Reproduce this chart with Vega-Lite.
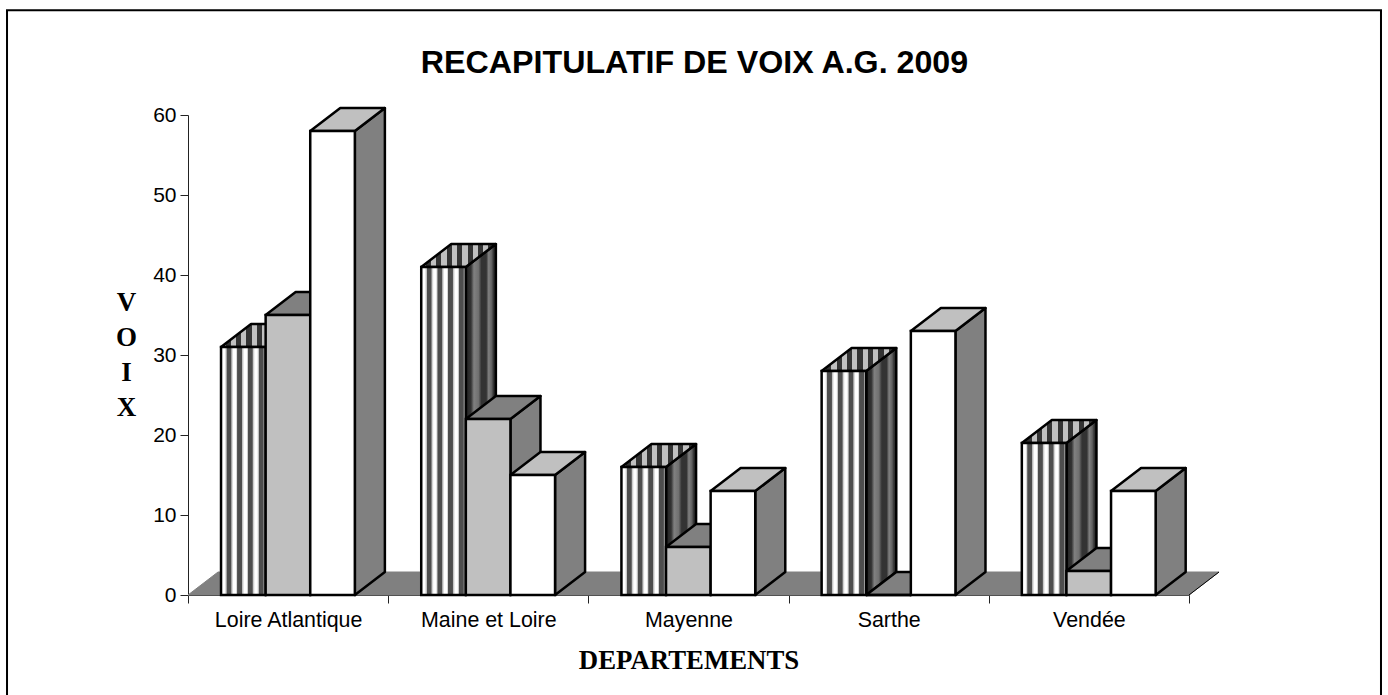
{"$schema":"https://vega.github.io/schema/vega-lite/v6.json","width":1001,"height":480,"autosize":"none","padding":{"left":188,"top":115,"right":199,"bottom":100},"background":"white","view":{"stroke":null},"config":{"view":{"stroke":null}},
"title":{"text":"RECAPITULATIF DE VOIX A.G. 2009","font":"Liberation Sans","fontSize":32.2,"fontWeight":"bold","color":"black","anchor":"middle","dx":6,"offset":-71},
"layer":[
{"data":{"values":[{"left":-0.904,"right":5.959,"top":73.1,"bottom":-13}]},"mark":{"type":"rect","fill":null,"stroke":"black","strokeWidth":2},"encoding":{"x":{"field":"left","type":"quantitative","scale":{"domain":[0,5],"nice":false},"axis":{"values":[0,0.5,1,1.5,2,2.5,3,3.5,4,4.5,5],"labelExpr":"datum.value % 1 == 0 ? '' : ['Loire Atlantique','Maine et Loire','Mayenne','Sarthe','Vendée'][floor(datum.value)]","tickOpacity":{"condition":{"test":"datum.value % 1 != 0","value":0},"value":1},"tickSize":8,"tickColor":"#222222","domainColor":"#222222","grid":false,"labelFont":"Liberation Sans","labelFontSize":21.4,"labelColor":"black","labelPadding":6,"labelFlush":false,"labelOverlap":false,"title":"DEPARTEMENTS","titleFont":"Liberation Serif","titleFontSize":26.8,"titleFontWeight":"bold","titleColor":"black","titlePadding":17}},"x2":{"field":"right"},"y":{"field":"bottom","type":"quantitative","scale":{"domain":[0,60],"nice":false},"axis":{"values":[0,10,20,30,40,50,60],"tickSize":8,"tickColor":"#222222","domainColor":"#222222","grid":false,"labelFont":"Liberation Sans","labelFontSize":21,"labelColor":"black","labelPadding":4,"title":["V","O","I","X"],"titleAngle":0,"titleFont":"Liberation Serif","titleFontSize":27,"titleFontWeight":"bold","titleColor":"black","titleLineHeight":35.3,"titleAlign":"center","titleBaseline":"middle","titleX":-62,"titleY":187}},"y2":{"field":"top"}}},
{"data":{"values":[{"edge":"front","level":0,"start":0,"end":5},{"edge":"back","level":2.875,"start":0.15,"end":5.15}]},"layer":[
{"mark":{"type":"area","orient":"horizontal","fill":"#808080","stroke":"#808080","strokeWidth":1},"encoding":{"y":{"field":"level","type":"quantitative"},"x":{"field":"start","type":"quantitative"},"x2":{"field":"end"}}},
{"mark":{"type":"line","stroke":"black","strokeWidth":1},"encoding":{"x":{"field":"end","type":"quantitative"},"y":{"field":"level","type":"quantitative"}}}
]},
{"data":{"values":[
{"departement":"Loire Atlantique","rang":0,"serie":0,"voix":31},{"departement":"Loire Atlantique","rang":0,"serie":1,"voix":35},{"departement":"Loire Atlantique","rang":0,"serie":2,"voix":58},
{"departement":"Maine et Loire","rang":1,"serie":0,"voix":41},{"departement":"Maine et Loire","rang":1,"serie":1,"voix":22},{"departement":"Maine et Loire","rang":1,"serie":2,"voix":15},
{"departement":"Mayenne","rang":2,"serie":0,"voix":16},{"departement":"Mayenne","rang":2,"serie":1,"voix":6},{"departement":"Mayenne","rang":2,"serie":2,"voix":13},
{"departement":"Sarthe","rang":3,"serie":0,"voix":28},{"departement":"Sarthe","rang":3,"serie":1,"voix":0},{"departement":"Sarthe","rang":3,"serie":2,"voix":33},
{"departement":"Vendée","rang":4,"serie":0,"voix":19},{"departement":"Vendée","rang":4,"serie":1,"voix":3},{"departement":"Vendée","rang":4,"serie":2,"voix":13}]},
"transform":[
{"calculate":"datum.rang+0.165+0.2228*datum.serie","as":"x0"},
{"calculate":"datum.x0+0.2228","as":"x1"},
{"calculate":"[0,1]","as":"p"},
{"flatten":["p"]},
{"calculate":"datum.x1+datum.p*0.15","as":"sideX"},
{"calculate":"datum.p*2.875","as":"low"},
{"calculate":"datum.voix+datum.p*2.875","as":"high"},
{"calculate":"datum.x0+datum.p*0.15","as":"topX0"},
{"calculate":"datum.x1+datum.p*0.15","as":"topX1"}],
"layer":[
{"mark":{"type":"area","orient":"vertical","stroke":"black","strokeWidth":2.5,"strokeJoin":"round"},"encoding":{"x":{"field":"sideX","type":"quantitative"},"y":{"field":"high","type":"quantitative"},"y2":{"field":"low"},"detail":[{"field":"rang"},{"field":"serie"}],
"fill":{"condition":{"test":"datum.serie==0","value":{"gradient":"linear","x1":0,"y1":0,"x2":1,"y2":0,"stops":[{"offset":0,"color":"#222222"},{"offset":0.17,"color":"#333333"},{"offset":0.27,"color":"#808080"},{"offset":0.42,"color":"#707070"},{"offset":0.52,"color":"#333333"},{"offset":0.68,"color":"#333333"},{"offset":0.76,"color":"#808080"},{"offset":0.86,"color":"#606060"},{"offset":0.92,"color":"#333333"},{"offset":1,"color":"#222222"}]}},"value":"#808080"}}},
{"mark":{"type":"area","orient":"horizontal","stroke":"black","strokeWidth":2.5,"strokeJoin":"round"},"encoding":{"y":{"field":"high","type":"quantitative"},"x":{"field":"topX0","type":"quantitative"},"x2":{"field":"topX1"},"detail":[{"field":"rang"},{"field":"serie"}],
"fill":{"condition":[{"test":"datum.serie==0","value":{"gradient":"linear","x1":0,"y1":0,"x2":1,"y2":0,"stops":[{"offset":0,"color":"#c0c0c0"},{"offset":0.06,"color":"#c0c0c0"},{"offset":0.06,"color":"#333333"},{"offset":0.13,"color":"#333333"},{"offset":0.13,"color":"#c0c0c0"},{"offset":0.2,"color":"#c0c0c0"},{"offset":0.2,"color":"#333333"},{"offset":0.27,"color":"#333333"},{"offset":0.27,"color":"#c0c0c0"},{"offset":0.34,"color":"#c0c0c0"},{"offset":0.34,"color":"#333333"},{"offset":0.41,"color":"#333333"},{"offset":0.41,"color":"#c0c0c0"},{"offset":0.48,"color":"#c0c0c0"},{"offset":0.48,"color":"#333333"},{"offset":0.55,"color":"#333333"},{"offset":0.55,"color":"#c0c0c0"},{"offset":0.62,"color":"#c0c0c0"},{"offset":0.62,"color":"#333333"},{"offset":0.69,"color":"#333333"},{"offset":0.69,"color":"#c0c0c0"},{"offset":0.76,"color":"#c0c0c0"},{"offset":0.76,"color":"#333333"},{"offset":0.83,"color":"#333333"},{"offset":0.83,"color":"#c0c0c0"},{"offset":0.9,"color":"#c0c0c0"},{"offset":0.9,"color":"#333333"},{"offset":1,"color":"#333333"}]}},{"test":"datum.serie==1","value":"#808080"}],"value":"#c0c0c0"}}},
{"transform":[{"filter":"datum.p==0"}],"mark":{"type":"rect","stroke":"black","strokeWidth":2.5},"encoding":{"x":{"field":"x0","type":"quantitative"},"x2":{"field":"x1"},"y":{"field":"voix","type":"quantitative"},"y2":{"field":"low"},
"fill":{"condition":[{"test":"datum.serie==0","value":{"gradient":"linear","x1":0,"y1":0,"x2":1,"y2":0,"stops":[{"offset":0,"color":"#ffffff"},{"offset":0.08,"color":"#ffffff"},{"offset":0.12,"color":"#c0c0c0"},{"offset":0.13,"color":"#4d4d4d"},{"offset":0.22,"color":"#4d4d4d"},{"offset":0.24,"color":"#c0c0c0"},{"offset":0.28,"color":"#ffffff"},{"offset":0.33,"color":"#ffffff"},{"offset":0.36,"color":"#c0c0c0"},{"offset":0.37,"color":"#4d4d4d"},{"offset":0.46,"color":"#4d4d4d"},{"offset":0.48,"color":"#c0c0c0"},{"offset":0.52,"color":"#ffffff"},{"offset":0.57,"color":"#ffffff"},{"offset":0.6,"color":"#c0c0c0"},{"offset":0.61,"color":"#4d4d4d"},{"offset":0.7,"color":"#4d4d4d"},{"offset":0.72,"color":"#c0c0c0"},{"offset":0.76,"color":"#ffffff"},{"offset":0.81,"color":"#ffffff"},{"offset":0.84,"color":"#c0c0c0"},{"offset":0.85,"color":"#4d4d4d"},{"offset":0.94,"color":"#4d4d4d"},{"offset":0.97,"color":"#c0c0c0"},{"offset":1,"color":"#ffffff"}]}},{"test":"datum.serie==1","value":"#c0c0c0"}],"value":"#ffffff"}}}
]}
]}
